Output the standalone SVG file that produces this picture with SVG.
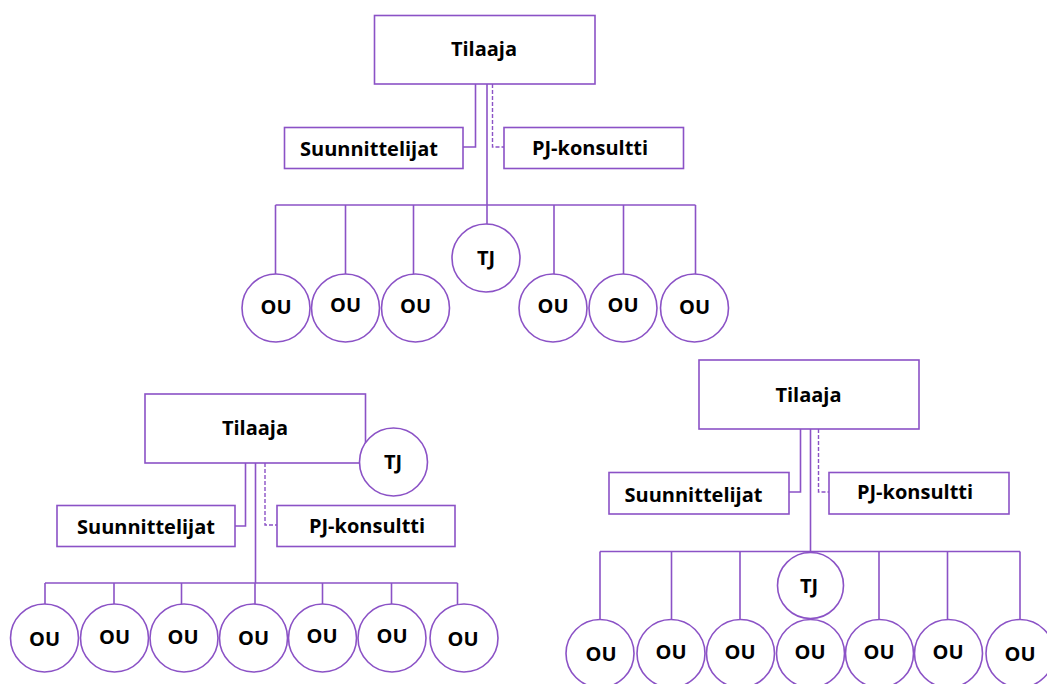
<svg xmlns="http://www.w3.org/2000/svg" width="1047" height="684" viewBox="0 0 1047 684">
  <style>
    .box { fill: #ffffff; stroke: #8B52C6; stroke-width: 1.6; }
    .circ { fill: #ffffff; stroke: #8B52C6; stroke-width: 1.6; }
    .ln { fill: none; stroke: #8B52C6; stroke-width: 1.6; }
    .dash { fill: none; stroke: #8B52C6; stroke-width: 1.4; stroke-dasharray: 4 2; }
    .lbl { font-family: "Open Sans", "Liberation Sans", sans-serif; font-weight: 700; font-size: 20px; fill: #000000; text-anchor: middle; }
  </style>
  <rect width="1047" height="684" fill="#ffffff"/>

  <!-- Connectors: top chart -->
  <g id="connectors-top">
    <polyline class="ln" points="475.5,84 475.5,147 463,147"/>
    <polyline class="dash" points="492.5,84 492.5,147 504,147"/>
    <line class="ln" x1="487" y1="84" x2="487" y2="205"/>
    <line class="ln" x1="275.5" y1="205" x2="695.5" y2="205"/>
    <line class="ln" x1="275.5" y1="205" x2="275.5" y2="274"/>
    <line class="ln" x1="345.5" y1="205" x2="345.5" y2="274"/>
    <line class="ln" x1="413.5" y1="205" x2="413.5" y2="274"/>
    <line class="ln" x1="487" y1="205" x2="487" y2="224"/>
    <line class="ln" x1="554" y1="205" x2="554" y2="274"/>
    <line class="ln" x1="623.5" y1="205" x2="623.5" y2="274"/>
    <line class="ln" x1="695.5" y1="205" x2="695.5" y2="274"/>
  </g>

  <!-- Connectors: bottom-left chart -->
  <g id="connectors-left">
    <polyline class="ln" points="245.5,463 245.5,526 235,526"/>
    <polyline class="dash" points="265,463 265,525 277,525"/>
    <line class="ln" x1="255.5" y1="463" x2="255.5" y2="583"/>
    <line class="ln" x1="45" y1="583" x2="457.5" y2="583"/>
    <line class="ln" x1="45" y1="583" x2="45" y2="604"/>
    <line class="ln" x1="114" y1="583" x2="114" y2="604"/>
    <line class="ln" x1="181.5" y1="583" x2="181.5" y2="604"/>
    <line class="ln" x1="255" y1="583" x2="255" y2="604"/>
    <line class="ln" x1="322.5" y1="583" x2="322.5" y2="604"/>
    <line class="ln" x1="391.5" y1="583" x2="391.5" y2="604"/>
    <line class="ln" x1="457.5" y1="583" x2="457.5" y2="604"/>
  </g>

  <!-- Connectors: bottom-right chart -->
  <g id="connectors-right">
    <polyline class="ln" points="800.5,429 800.5,492 789,492"/>
    <polyline class="dash" points="818.5,429 818.5,492 829,492"/>
    <line class="ln" x1="810.5" y1="429" x2="810.5" y2="551.5"/>
    <line class="ln" x1="600" y1="551.5" x2="1020" y2="551.5"/>
    <line class="ln" x1="600" y1="551.5" x2="600" y2="619.5"/>
    <line class="ln" x1="671.5" y1="551.5" x2="671.5" y2="619.5"/>
    <line class="ln" x1="740" y1="551.5" x2="740" y2="619.5"/>
    <line class="ln" x1="879" y1="551.5" x2="879" y2="619.5"/>
    <line class="ln" x1="947.5" y1="551.5" x2="947.5" y2="619.5"/>
    <line class="ln" x1="1020" y1="551.5" x2="1020" y2="619.5"/>
  </g>

  <!-- Top chart nodes -->
  <g id="t-tilaaja"><rect class="box" x="374.5" y="15.5" width="220.5" height="68.5"/><text class="lbl" x="484" y="56">Tilaaja</text></g>
  <g id="t-suunnittelijat"><rect class="box" x="284.5" y="127.5" width="178.5" height="41"/><text class="lbl" x="369" y="156">Suunnittelijat</text></g>
  <g id="t-pj"><rect class="box" x="504" y="127.5" width="179.5" height="41"/><text class="lbl" x="590" y="155">PJ-konsultti</text></g>
  <g id="t-tj"><circle class="circ" cx="486" cy="258" r="34"/><text class="lbl" x="486" y="265">TJ</text></g>
  <g id="t-ou1"><circle class="circ" cx="276" cy="308" r="34"/><text class="lbl" x="276" y="314">OU</text></g>
  <g id="t-ou2"><circle class="circ" cx="345.5" cy="308" r="34"/><text class="lbl" x="345.5" y="312">OU</text></g>
  <g id="t-ou3"><circle class="circ" cx="415.5" cy="308" r="34"/><text class="lbl" x="415.5" y="313">OU</text></g>
  <g id="t-ou4"><circle class="circ" cx="553" cy="308" r="34"/><text class="lbl" x="553" y="313">OU</text></g>
  <g id="t-ou5"><circle class="circ" cx="623" cy="308" r="34"/><text class="lbl" x="623" y="312">OU</text></g>
  <g id="t-ou6"><circle class="circ" cx="694.5" cy="308" r="34"/><text class="lbl" x="694.5" y="314">OU</text></g>

  <!-- Bottom-left chart nodes -->
  <g id="l-tilaaja"><rect class="box" x="145" y="394" width="220.5" height="69"/><text class="lbl" x="255" y="435">Tilaaja</text></g>
  <g id="l-tj"><circle class="circ" cx="393.5" cy="462" r="34"/><text class="lbl" x="393" y="469">TJ</text></g>
  <g id="l-suunnittelijat"><rect class="box" x="57" y="505.5" width="178" height="41"/><text class="lbl" x="146" y="534">Suunnittelijat</text></g>
  <g id="l-pj"><rect class="box" x="277" y="505.5" width="178" height="41"/><text class="lbl" x="367" y="533">PJ-konsultti</text></g>
  <g id="l-ou1"><circle class="circ" cx="44.5" cy="638" r="34"/><text class="lbl" x="44.5" y="646">OU</text></g>
  <g id="l-ou2"><circle class="circ" cx="114.5" cy="638" r="34"/><text class="lbl" x="114.5" y="644">OU</text></g>
  <g id="l-ou3"><circle class="circ" cx="184" cy="638" r="34"/><text class="lbl" x="183" y="644">OU</text></g>
  <g id="l-ou4"><circle class="circ" cx="253.5" cy="638" r="34"/><text class="lbl" x="253.5" y="645">OU</text></g>
  <g id="l-ou5"><circle class="circ" cx="322.5" cy="638" r="34"/><text class="lbl" x="322" y="643">OU</text></g>
  <g id="l-ou6"><circle class="circ" cx="392" cy="638" r="34"/><text class="lbl" x="392" y="643">OU</text></g>
  <g id="l-ou7"><circle class="circ" cx="464" cy="638" r="34"/><text class="lbl" x="463" y="646">OU</text></g>

  <!-- Bottom-right chart nodes -->
  <g id="r-tilaaja"><rect class="box" x="699" y="360" width="220" height="69"/><text class="lbl" x="808.5" y="402">Tilaaja</text></g>
  <g id="r-suunnittelijat"><rect class="box" x="609" y="472.5" width="180" height="41.5"/><text class="lbl" x="693.5" y="502">Suunnittelijat</text></g>
  <g id="r-pj"><rect class="box" x="829" y="472.5" width="180" height="41.5"/><text class="lbl" x="915" y="499">PJ-konsultti</text></g>
  <g id="r-tj"><circle class="circ" cx="810.5" cy="585.5" r="33"/><text class="lbl" x="809" y="593">TJ</text></g>
  <g id="r-ou1"><circle class="circ" cx="600" cy="653.5" r="34"/><text class="lbl" x="601" y="661">OU</text></g>
  <g id="r-ou2"><circle class="circ" cx="671" cy="653.5" r="34"/><text class="lbl" x="671" y="659">OU</text></g>
  <g id="r-ou3"><circle class="circ" cx="740.5" cy="653.5" r="34"/><text class="lbl" x="740" y="659">OU</text></g>
  <g id="r-ou4"><circle class="circ" cx="810.5" cy="653.5" r="34"/><text class="lbl" x="810" y="659">OU</text></g>
  <g id="r-ou5"><circle class="circ" cx="879.5" cy="653.5" r="34"/><text class="lbl" x="879" y="659">OU</text></g>
  <g id="r-ou6"><circle class="circ" cx="948.5" cy="653.5" r="34"/><text class="lbl" x="948" y="659">OU</text></g>
  <g id="r-ou7"><circle class="circ" cx="1020" cy="653.5" r="34"/><text class="lbl" x="1020" y="661">OU</text></g>
</svg>
